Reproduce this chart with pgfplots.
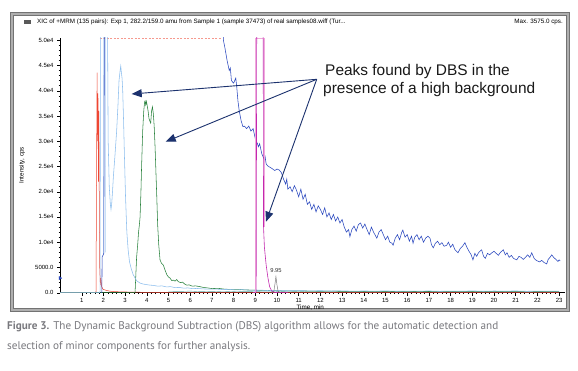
\documentclass[border=0pt]{standalone}
\usepackage{pgfplots}
\pgfplotsset{compat=1.18}
\usetikzlibrary{arrows.meta}
\usepackage{fontspec}
\setmainfont{Liberation Sans}
\newfontfamily\capfont{PT Sans}
\definecolor{lblue}{RGB}{140,190,238}
\definecolor{dblue}{RGB}{40,70,190}
\definecolor{cred}{RGB}{238,70,50}
\definecolor{cgreen}{RGB}{40,130,60}
\definecolor{cmag}{RGB}{195,40,175}
\definecolor{cpink}{RGB}{240,170,220}
\definecolor{cteal}{RGB}{90,170,170}
\definecolor{navy}{RGB}{28,50,110}
\definecolor{capgray}{RGB}{120,120,125}
\definecolor{framegray}{RGB}{175,175,175}

\begin{document}
\begin{tikzpicture}[x=1bp,y=-1bp]
\path[use as bounding box] (0,0) rectangle (578,370);
% window frame
\fill[white] (10,12) rectangle (569,311);
\draw[framegray, line width=3bp] (11.5,13.5) rectangle (567.5,309.5);
\draw[black!55, line width=0.6bp] (10,12) rectangle (569,311);
\draw[black!55, line width=0.4bp] (13,15) rectangle (566,308);
\fill[black!65] (24,19.5) rectangle (31,23.5);
\node[anchor=west, inner sep=0, font=\fontsize{6.3}{7}\selectfont] at (37,22) {XIC of +MRM (135 pairs): Exp 1, 282.2/159.0 amu from Sample 1 (sample 37473) of real samples08.wiff (Tur...};
\node[anchor=east, inner sep=0, font=\fontsize{6.3}{7}\selectfont] at (563,22) {Max. 3575.0 cps.};

\begin{axis}[
  at={(60bp,-292.7bp)}, anchor=south west,
  scale only axis, width=504.5bp, height=255bp,
  xmin=0, xmax=23.25, ymin=0, ymax=50500,
  axis lines=left, axis line style={-, line width=0.5bp},
  clip mode=individual,
  xtick={1,...,23}, minor x tick num=4,
  ytick={0,5000,...,50000},
  yticklabels={0.0,5000.0,1.0e4,1.5e4,2.0e4,2.5e4,3.0e4,3.5e4,4.0e4,4.5e4,5.0e4},
  minor y tick num=4,
  tick align=outside, major tick length=3bp, minor tick length=1.5bp,
  tick style={line width=0.4bp, black},
  ticklabel style={font=\fontsize{6}{6.5}\selectfont},
  xticklabel style={yshift=1bp},
  /pgf/number format/assume math mode=true,
  scaled y ticks=false,
  xlabel={Time, min}, ylabel={Intensity, cps},
  xlabel style={at={(axis description cs:0.496,-0.060)}, anchor=center, font=\fontsize{6.3}{7}\selectfont},
  ylabel style={at={(axis description cs:-0.0753,0.5)}, anchor=center, font=\fontsize{6.3}{7}\selectfont},
]
% red dashed saturation line
\addplot[cred!55, line width=0.5bp, dash pattern=on 2bp off 1.5bp] coordinates {(1.84,50300) (7.45,50300)};
% baseline noise teal
\addplot[cteal, line width=0.4bp] coordinates {
(5,300) (5.5,250) (6,320) (6.5,200) (7,280) (7.5,180) (8,260) (8.5,200) (9,240) (9.5,150) (10,260) (10.5,180) (11,240) (11.5,160) (12,230) (12.5,150) (13,250) (13.5,170) (14,220) (14.5,140) (15,230) (15.5,160) (16,250) (16.5,170) (17,220) (17.5,150) (18,240) (18.5,160) (19,260) (19.5,180) (20,300) (20.5,170) (21,240) (21.5,150) (22,230) (22.5,170) (23,250)};
% red trace
\addplot[cred, line width=0.5bp] coordinates {
(0,0) (1.6,0) (1.66,200) (1.69,29000) (1.71,43600) (1.73,30000) (1.75,39500) (1.77,22000) (1.79,36000) (1.81,19000) (1.83,5000) (1.86,1500) (1.88,2900) (1.92,1200) (1.98,700) (2.1,500) (2.3,300) (2.6,200) (3.0,150) (3.5,100) (4,80) (5,60) (6,90) (7,50) (8,70) (9,40) (10,60) (11,40) (12,60) (13,30) (14,50) (15,40) (16,60) (17,30) (18,50) (19,40) (20,70) (21,30) (22,50) (23,40)};
% green trace
\addplot[cgreen, line width=0.55bp] coordinates {
(0,0) (3.40,0) (3.46,100) (3.53,7000) (3.58,9500) (3.62,12000) (3.66,13500) (3.69,15000) (3.73,20000) (3.76,25000) (3.81,32000) (3.86,36000) (3.90,37800) (3.92,38000) (3.95,37200) (3.98,37900) (4.02,37000) (4.06,36000) (4.10,34500) (4.14,34000) (4.18,33600) (4.22,36000) (4.26,36800) (4.30,35500) (4.34,33000) (4.38,29000) (4.42,24000) (4.46,19000) (4.50,13500) (4.55,9500) (4.61,6500) (4.68,5800) (4.76,5500) (4.84,4500) (4.92,3600) (5.0,3100) (5.07,2900) (5.15,2400) (5.22,2500) (5.30,2300) (5.38,2600) (5.45,2200) (5.55,2000) (5.65,2100) (5.75,1700) (5.84,1500) (5.95,1550) (6.1,1300) (6.25,1350) (6.45,1200) (6.6,1050) (6.8,950) (7,820) (7.3,860) (7.6,700) (7.9,650) (8.2,680) (8.5,560) (8.8,520) (9.1,480) (9.5,450) (10,400) (10.5,360) (11,380) (11.5,320) (12,300) (12.5,320) (13,280) (13.5,260) (14,250) (14.5,270) (15,260) (15.5,230) (16,220) (16.5,250) (17,240) (17.5,210) (18,200) (18.5,230) (19,220) (19.5,190) (20,200) (20.5,220) (21,210) (21.5,180) (22,190) (22.5,210) (23,200)};
% light blue trace
\addplot[lblue, line width=0.55bp] coordinates {
(0,0) (1.82,0) (1.85,300) (1.86,60000) (2.18,60000) (2.22,30000) (2.27,21000) (2.32,17500) (2.35,16500) (2.38,17500) (2.42,20000) (2.46,23000) (2.53,27000) (2.61,32000) (2.67,37000) (2.72,42000) (2.77,44000) (2.80,44900) (2.83,43500) (2.86,42500) (2.89,40000) (2.93,34000) (2.97,27000) (3.02,19000) (3.08,12000) (3.14,8500) (3.2,6200) (3.28,4800) (3.37,3600) (3.46,2900) (3.55,2300) (3.69,1900) (3.85,1700) (4.0,1600) (4.15,1500) (4.3,1450) (4.5,1300) (4.7,1350) (4.9,1150) (5.1,1200) (5.3,1000) (5.5,1050) (5.7,900) (5.9,950) (6.1,800) (6.3,850) (6.6,750) (6.9,700) (7.2,720) (7.5,620) (7.8,650) (8.1,560) (8.4,600) (8.7,520) (9.0,480) (9.3,500) (9.6,430) (10,450) (10.5,380) (11,420) (11.5,350) (12,400) (12.5,330) (13,380) (13.5,300) (14,350) (14.5,310) (15,360) (15.5,290) (16,330) (16.5,300) (17,350) (17.5,280) (18,330) (18.5,300) (19,360) (19.5,290) (20,340) (20.5,310) (21,350) (21.5,280) (22,320) (22.5,300) (23,330)};
% second light blue line
\addplot[lblue!70, line width=0.5bp] coordinates {(2.00,7600) (2.01,60000) (2.09,60000) (2.10,8000)};
% dark blue trace
\addplot[dblue, line width=0.55bp] coordinates {
(1.90,0) (1.93,200) (1.94,7100) (1.97,7300) (2.02,7800) (2.05,60000) (7.48,60000)
(7.53,50000) (7.60,48500) (7.70,46000) (7.80,44000) (7.85,44500) (7.90,42000) (8.00,41500) (8.10,42500) (8.14,41000) (8.20,38000) (8.26,36000) (8.35,34000) (8.43,32900) (8.50,33000) (8.60,32500) (8.70,33000) (8.80,32000) (8.90,32500) (9.00,30500) (9.10,29500) (9.14,28900) (9.20,29500) (9.30,27500) (9.40,26500) (9.45,27000) (9.50,25500) (9.60,25000) (9.70,24800) (9.80,24500) (9.90,24200) (10.00,24500) (10.10,24300) (10.20,23800) (10.30,22500) (10.40,21500) (10.45,22500) (10.50,20500) (10.60,21000) (10.70,20000) (10.80,21200) (10.90,20300) (11.00,19000) (11.10,20500) (11.20,18500) (11.30,19500) (11.40,17500) (11.50,18000) (11.60,16500) (11.70,17500) (11.80,16000) (11.90,17200) (12.00,16500) (12.10,15500) (12.20,16800) (12.30,15000) (12.40,15800) (12.50,14500) (12.60,15500) (12.70,14200) (12.80,15000) (12.90,13800) (13.00,14500) (13.10,13000) (13.20,12000) (13.30,12500) (13.36,11100) (13.45,12500) (13.55,13200) (13.65,12200) (13.75,13500) (13.85,13800) (13.95,12800) (14.05,13600) (14.15,12500) (14.25,11500) (14.35,13000) (14.45,12000) (14.55,11200) (14.60,10800) (14.70,12000) (14.80,12500) (14.90,11500) (15.00,10500) (15.10,11200) (15.20,10000) (15.30,9800) (15.35,9400) (15.45,10800) (15.55,11500) (15.65,10500) (15.75,12000) (15.80,12400) (15.90,11000) (16.00,11500) (16.10,10200) (16.20,11200) (16.27,9800) (16.35,11000) (16.45,11500) (16.55,10500) (16.65,11200) (16.75,10000) (16.85,10800) (16.95,11200) (17.05,10800) (17.12,9500) (17.20,8900) (17.30,9800) (17.40,10200) (17.50,9500) (17.60,9900) (17.70,9200) (17.82,9400) (17.90,10000) (18.00,9000) (18.10,9600) (18.20,8500) (18.34,7900) (18.45,8800) (18.55,9200) (18.66,9900) (18.75,9000) (18.85,8200) (18.95,7500) (19.03,6500) (19.12,7800) (19.20,7200) (19.30,8000) (19.43,8500) (19.52,7200) (19.60,6800) (19.70,7800) (19.80,7500) (19.90,7900) (20.00,8200) (20.10,7800) (20.20,7400) (20.30,8000) (20.43,8500) (20.52,7500) (20.60,7900) (20.70,7000) (20.80,7400) (20.90,6800) (21.05,6500) (21.15,7200) (21.25,7000) (21.35,6600) (21.45,7000) (21.55,7500) (21.65,7000) (21.74,7900) (21.85,6800) (21.95,6400) (22.05,6200) (22.10,6100) (22.20,6400) (22.30,6000) (22.43,5700) (22.50,6600) (22.58,7000) (22.66,7500) (22.75,7000) (22.85,6600) (22.95,6200) (23.00,6500) (23.05,6300)};
% pink outline
\addplot[cpink, line width=0.6bp] coordinates {(8.99,0) (8.99,50300) (9.41,50300) (9.41,13000)};
% magenta trace
\addplot[cmag, line width=0.6bp] coordinates {
(8.90,0) (9.04,100) (9.07,60000) (9.36,60000) (9.38,13000) (9.42,9000) (9.50,5500) (9.58,3000) (9.66,1200) (9.75,400) (9.85,100) (10.0,30) (10.5,0)};
% gray peak 9.95
\addplot[black!55, line width=0.45bp] coordinates {(9.75,0) (9.85,200) (9.90,1500) (9.95,3200) (10.00,1500) (10.05,300) (10.15,0)};
\node[font=\fontsize{5.8}{6}\selectfont, black!80] at (axis cs:9.95,4400) {9.95};
% small marker on y axis
\addplot[only marks, mark=triangle*, mark size=1.8bp, mark options={rotate=-90, fill=dblue, draw=dblue}] coordinates {(0,2900)};
\end{axis}

% annotation
\node[anchor=west, inner sep=0, font=\fontsize{15.5}{18}\selectfont, black!90] at (325,72) {Peaks found by DBS in the};
\node[anchor=west, inner sep=0, font=\fontsize{15.5}{18}\selectfont, black!90] at (323,90) {presence of a high background};
\draw[navy, line width=0.9bp, -{Triangle[length=10bp,width=8bp]}] (316.7,79.3) -- (131.7,94);
\draw[navy, line width=0.9bp, -{Triangle[length=10bp,width=8bp]}] (316.7,79.3) -- (165.7,141.7);
\draw[navy, line width=0.9bp, -{Triangle[length=10bp,width=8bp]}] (316.7,79.3) -- (266,221.7);

% caption
\node[anchor=west, inner sep=0, font=\capfont\fontsize{11.2}{13}\selectfont, capgray] at (7,327) {\textbf{Figure 3.} The Dynamic Background Subtraction (DBS) algorithm allows for the automatic detection and};
\node[anchor=west, inner sep=0, font=\capfont\fontsize{11.2}{13}\selectfont, capgray] at (7,347) {selection of minor components for further analysis.};
\end{tikzpicture}
\end{document}
